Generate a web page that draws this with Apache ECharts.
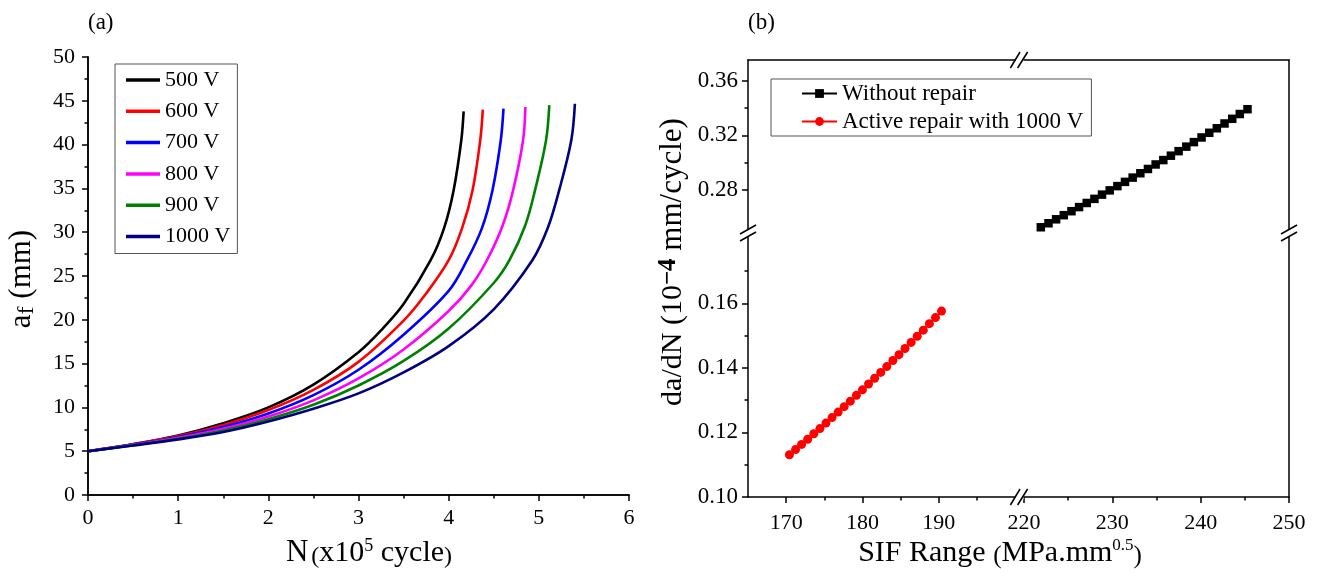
<!DOCTYPE html>
<html><head><meta charset="utf-8">
<script src="https://cdn.jsdelivr.net/npm/echarts@6/dist/echarts.min.js"></script>
<style>html,body{margin:0;padding:0;background:#fff}#c{width:1320px;height:580px}</style>
</head><body><div id="c"></div>
<script>
// ---------- Panel (a): crack length a_f vs cycles N (x10^5) ----------
const voltNames = ['500 V','600 V','700 V','800 V','900 V','1000 V'];
const voltColors = ['#000000','#ff0000','#0000ff','#ff00ff','#008000','#000080'];
const n500  = [0,0.5,1,1.5,2,2.5,3,3.25,3.5,3.8,3.95,4.055,4.14,4.166];
const a500  = [5,5.8,6.8,8.2,10.0,12.6,16.3,18.8,21.8,26.8,30.5,34.8,40.5,43.8];
const n600  = [0,0.5,1,1.5,2,2.5,3,3.5,3.75,4.0,4.15,4.265,4.35,4.379];
const a600  = [5,5.78,6.72,8.0,9.7,12.0,15.2,19.9,23.0,26.8,30.5,34.8,40.5,44.0];
const n700  = [0,0.5,1,1.5,2,2.5,3,3.5,4.0,4.203,4.37,4.486,4.578,4.608];
const a700  = [5,5.75,6.62,7.75,9.3,11.4,14.3,18.3,23.3,26.8,30.5,34.8,40.5,44.1];
const n800  = [0,0.5,1,1.5,2,2.5,3,3.5,4.0,4.25,4.424,4.6,4.715,4.825,4.851];
const a800  = [5,5.72,6.52,7.55,8.95,10.8,13.3,16.6,21.0,23.9,26.8,30.8,34.8,40.5,44.3];
const n900  = [0,0.5,1,1.5,2,2.5,3,3.5,4.0,4.5,4.674,4.85,4.958,5.08,5.116];
const a900  = [5,5.68,6.42,7.35,8.65,10.3,12.5,15.3,19.0,24.2,26.8,30.8,34.8,40.5,44.5];
const n1000 = [0,0.5,1,1.5,2,2.5,3,3.5,4.0,4.5,4.928,5.1,5.226,5.36,5.40];
const a1000 = [5,5.65,6.35,7.2,8.4,9.85,11.6,14.0,17.0,21.2,26.8,30.5,34.8,40.5,44.66];
const curvesN = [n500,n600,n700,n800,n900,n1000];
const curvesA = [a500,a600,a700,a800,a900,a1000];

// ---------- Panel (b): da/dN vs SIF range ----------
const seriesNamesB = ['Without repair','Active repair with 1000 V'];
const sifNoRepair = [221.90,222.77,223.63,224.50,225.37,226.23,227.10,227.97,228.83,229.70,230.57,231.43,232.30,233.17,234.03,234.90,235.77,236.63,237.50,238.37,239.23,240.10,240.97,241.83,242.70,243.57,244.43,245.30];
const rateNoRepair = [0.2530,0.2559,0.2588,0.2618,0.2647,0.2677,0.2707,0.2737,0.2768,0.2799,0.2830,0.2861,0.2892,0.2924,0.2955,0.2988,0.3020,0.3052,0.3085,0.3118,0.3151,0.3185,0.3219,0.3252,0.3287,0.3321,0.3356,0.3391];
const sifRepair = [170.43,171.23,172.02,172.82,173.62,174.42,175.21,176.01,176.81,177.60,178.40,179.20,179.99,180.79,181.59,182.39,183.18,183.98,184.78,185.57,186.37,187.17,187.96,188.76,189.56,190.35];
const rateRepair = [0.1131,0.1147,0.1163,0.1179,0.1196,0.1212,0.1229,0.1246,0.1263,0.1280,0.1297,0.1315,0.1332,0.1350,0.1368,0.1386,0.1404,0.1423,0.1441,0.1460,0.1479,0.1498,0.1517,0.1537,0.1556,0.1576];
const xLowRange = [165, 200.5];      // left part of broken x axis
const xHighRange = [219.43, 250];    // right part of broken x axis
const yLowRange = [0.10, 0.1818];    // lower part of broken y axis
const yHighRange = [0.2488, 0.375];  // upper part of broken y axis
const xLowTicks = [170,180,190], xLowMinor = [175,185,195];
const xHighTicks = [220,230,240,250], xHighMinor = [225,235,245];
const yLowTicks = [0.10,0.12,0.14,0.16], yLowMinor = [0.11,0.13,0.15,0.17];
const yHighTicks = [0.28,0.32,0.36], yHighMinor = [0.30,0.34];

const FONT = 'Liberation Serif, Times New Roman, serif';
const zip = (a,b) => a.map((v,i)=>[v,b[i]]);

// layout
const GA = {left:88, top:57, width:541, height:438};
const BX0 = 748, BX1 = 1019, BX2 = 1289, BY0 = 60, BY1 = 233, BY2 = 497;

const lineAx = {show:true, lineStyle:{color:'#000', width:1.5}};
const noTick = {show:false}, noLab = {show:false}, noSplit = {show:false};
const labStyle = {color:'#000', fontFamily:FONT, fontSize:22};

function lineOnly(extra){ return Object.assign({type:'value', axisLine:lineAx, axisTick:noTick, axisLabel:noLab, splitLine:noSplit}, extra); }
function minorAxis(extra, vals){ return Object.assign({type:'value', axisLine:{show:false}, axisTick:{show:true, length:3.5, customValues:vals, lineStyle:{color:'#000',width:1.5}}, axisLabel:noLab, splitLine:noSplit}, extra); }

const xAxes = [
  {type:'value', gridIndex:0, min:0, max:6, interval:1, position:'bottom',
   axisLine:lineAx, axisTick:{show:true, length:6, lineStyle:{color:'#000',width:1.5}},
   minorTick:{show:true, splitNumber:2, length:3.5, lineStyle:{color:'#000',width:1.5}},
   axisLabel:Object.assign({margin:12}, labStyle), splitLine:noSplit},
  lineOnly({gridIndex:0, min:0, max:6, position:'top'}),
  lineOnly({gridIndex:1, min:xLowRange[0], max:xLowRange[1], position:'top'}),
  lineOnly({gridIndex:2, min:xHighRange[0], max:xHighRange[1], position:'top'}),
  {type:'value', gridIndex:3, min:xLowRange[0], max:xLowRange[1], position:'bottom',
   axisLine:lineAx, axisTick:{show:true, length:6, customValues:xLowTicks, lineStyle:{color:'#000',width:1.5}},
   axisLabel:Object.assign({margin:15, customValues:xLowTicks}, labStyle), splitLine:noSplit},
  {type:'value', gridIndex:4, min:xHighRange[0], max:xHighRange[1], position:'bottom',
   axisLine:lineAx, axisTick:{show:true, length:6, customValues:xHighTicks, lineStyle:{color:'#000',width:1.5}},
   axisLabel:Object.assign({margin:15, customValues:xHighTicks}, labStyle), splitLine:noSplit},
  minorAxis({gridIndex:3, min:xLowRange[0], max:xLowRange[1], position:'bottom'}, xLowMinor),
  minorAxis({gridIndex:4, min:xHighRange[0], max:xHighRange[1], position:'bottom'}, xHighMinor)
];
const yAxes = [
  {type:'value', gridIndex:0, min:0, max:50, interval:5, position:'left',
   axisLine:lineAx, axisTick:{show:true, length:6, lineStyle:{color:'#000',width:1.5}},
   minorTick:{show:true, splitNumber:2, length:3.5, lineStyle:{color:'#000',width:1.5}},
   axisLabel:Object.assign({margin:13}, labStyle), splitLine:noSplit},
  lineOnly({gridIndex:0, min:0, max:50, position:'right'}),
  {type:'value', gridIndex:1, min:yHighRange[0], max:yHighRange[1], position:'left',
   axisLine:lineAx, axisTick:{show:true, length:6, customValues:yHighTicks, lineStyle:{color:'#000',width:1.5}},
   axisLabel:Object.assign({margin:10, customValues:yHighTicks, formatter:v=>(+v).toFixed(2)}, labStyle, {fontSize:23}), splitLine:noSplit},
  lineOnly({gridIndex:2, min:yHighRange[0], max:yHighRange[1], position:'right'}),
  {type:'value', gridIndex:3, min:yLowRange[0], max:yLowRange[1], position:'left',
   axisLine:lineAx, axisTick:{show:true, length:6, customValues:yLowTicks, lineStyle:{color:'#000',width:1.5}},
   axisLabel:Object.assign({margin:10, customValues:yLowTicks, formatter:v=>(+v).toFixed(2)}, labStyle, {fontSize:23}), splitLine:noSplit},
  lineOnly({gridIndex:4, min:yLowRange[0], max:yLowRange[1], position:'right'}),
  minorAxis({gridIndex:1, min:yHighRange[0], max:yHighRange[1], position:'left'}, yHighMinor),
  minorAxis({gridIndex:3, min:yLowRange[0], max:yLowRange[1], position:'left'}, yLowMinor)
];

const series = voltNames.map((nm,i)=>({
  name:nm, type:'line', xAxisIndex:0, yAxisIndex:0,
  data: zip(curvesN[i], curvesA[i]), showSymbol:false, symbol:'none',
  smooth:0.35,
  lineStyle:{color:voltColors[i], width:2.6}, itemStyle:{color:voltColors[i]}
}));
series.push({name:seriesNamesB[0], type:'line', xAxisIndex:3, yAxisIndex:3,
  data: zip(sifNoRepair, rateNoRepair), symbol:'rect', symbolSize:8.5, showAllSymbol:true,
  lineStyle:{color:'#000', width:2}, itemStyle:{color:'#000'}});
series.push({name:seriesNamesB[1], type:'line', xAxisIndex:4, yAxisIndex:4,
  data: zip(sifRepair, rateRepair), symbol:'circle', symbolSize:9, showAllSymbol:true,
  lineStyle:{color:'#ff0000', width:2}, itemStyle:{color:'#ff0000'}});

function breakH(cx, cy){
  return [
    {type:'rect', shape:{x:cx-4, y:cy-2.5, width:8.5, height:5}, style:{fill:'#fff'}, z:100},
    {type:'line', shape:{x1:cx-8.6, y1:cy+8, x2:cx+1, y2:cy-8}, style:{stroke:'#000', lineWidth:1.5}, z:101},
    {type:'line', shape:{x1:cx-1.4, y1:cy+8, x2:cx+8.6, y2:cy-8}, style:{stroke:'#000', lineWidth:1.5}, z:101}
  ];
}
function breakV(cx, cy){
  return [
    {type:'rect', shape:{x:cx-2.5, y:cy-3, width:5, height:7}, style:{fill:'#fff'}, z:100},
    {type:'line', shape:{x1:cx-8, y1:cy+1, x2:cx+8, y2:cy-8}, style:{stroke:'#000', lineWidth:1.5}, z:101},
    {type:'line', shape:{x1:cx-8, y1:cy+8, x2:cx+8, y2:cy-1}, style:{stroke:'#000', lineWidth:1.5}, z:101}
  ];
}
const tTitle = {fill:'#000', fontFamily:FONT};
const graphics = [
  ...breakH(BX1, BY0), ...breakH(BX1, BY2), ...breakV(BX0, BY1), ...breakV(BX2, BY1),
  {type:'text', x:88, y:23, style:Object.assign({text:'(a)', fontSize:23, verticalAlign:'middle'}, tTitle)},
  {type:'text', x:748, y:23, style:Object.assign({text:'(b)', fontSize:23, verticalAlign:'middle'}, tTitle)},
  {type:'text', x:369, y:553, style:Object.assign({
     text:'{n|N} {p|(}{m|x10}{s|5}{m| cycle}{p|)}', align:'center', verticalAlign:'middle',
     rich:{n:{fontSize:31, fontFamily:FONT, lineHeight:32}, m:{fontSize:30, fontFamily:FONT, lineHeight:32},
           p:{fontSize:24, fontFamily:FONT, lineHeight:28, verticalAlign:'bottom'},
           s:{fontSize:18, fontFamily:FONT, lineHeight:17, verticalAlign:'top'}}}, tTitle)},
  {type:'text', x:1000, y:553, style:Object.assign({
     text:'{m|SIF Range }{p|(}{m|MPa.mm}{s|0.5}{p|)}', align:'center', verticalAlign:'middle',
     rich:{m:{fontSize:30, fontFamily:FONT, lineHeight:32},
           p:{fontSize:25, fontFamily:FONT, lineHeight:28, verticalAlign:'bottom'},
           s:{fontSize:17, fontFamily:FONT, lineHeight:16, verticalAlign:'top'}}}, tTitle)},
  {type:'text', x:22, y:279, rotation:Math.PI/2, style:Object.assign({
     text:'{m|a}{b|f}{m| (mm)}', align:'center', verticalAlign:'middle',
     rich:{m:{fontSize:31, fontFamily:FONT, lineHeight:34},
           b:{fontSize:24, fontFamily:FONT, lineHeight:24, verticalAlign:'bottom', padding:[10,0,0,0]}}}, tTitle)},
  {type:'text', x:673, y:262, rotation:Math.PI/2, style:Object.assign({
     text:'{m|da/dN (10}{s|−4}{k| mm/cycle)}', align:'center', verticalAlign:'middle',
     rich:{m:{fontSize:30, fontFamily:FONT, lineHeight:34},
           k:{fontSize:31, fontFamily:FONT, lineHeight:34},
           s:{fontSize:25, fontFamily:FONT, fontWeight:'bold', lineHeight:22, verticalAlign:'top'}}}, tTitle)}
];

const legendTextA = {color:'#000', fontFamily:FONT, fontSize:22, lineHeight:22};
const option = {
  animation:false,
  backgroundColor:'#fff',
  grid:[
    Object.assign({outerBoundsMode:'none', containLabel:false}, GA),
    {left:BX0, top:BY0, width:BX1-BX0, height:BY1-BY0, outerBoundsMode:'none'},
    {left:BX1, top:BY0, width:BX2-BX1, height:BY1-BY0, outerBoundsMode:'none'},
    {left:BX0, top:BY1, width:BX1-BX0, height:BY2-BY1, outerBoundsMode:'none'},
    {left:BX1, top:BY1, width:BX2-BX1, height:BY2-BY1, outerBoundsMode:'none'}
  ],
  xAxis:xAxes, yAxis:yAxes,
  legend:[
    {data:voltNames.map(n=>({name:n, icon:'rect'})), orient:'vertical', left:115, top:64, padding:[5,7,6,11],
     borderColor:'#555', borderWidth:1, backgroundColor:'#fff',
     itemWidth:34, itemHeight:3.5, itemGap:9.3, textStyle:legendTextA},
    {data:seriesNamesB, orient:'vertical', left:771, top:79, padding:[3,8,3,30],
     borderColor:'#555', borderWidth:1, backgroundColor:'#fff',
     itemWidth:35, itemHeight:11, itemGap:5,
     textStyle:{color:'#000', fontFamily:FONT, fontSize:23, lineHeight:23}}
  ],
  series:series,
  graphic:graphics
};
const chart = echarts.init(document.getElementById('c'), null, {renderer:'canvas'});
chart.setOption(option);
</script></body></html>
